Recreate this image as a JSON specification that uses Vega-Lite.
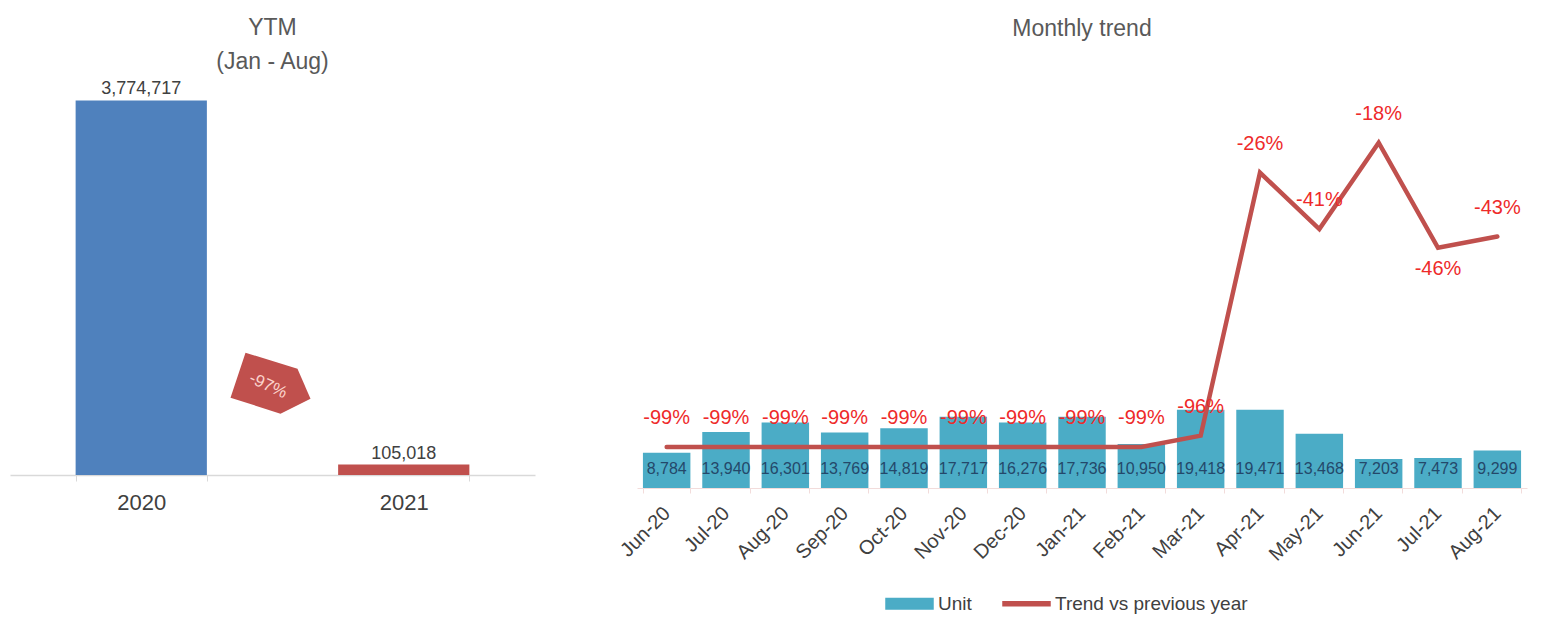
{
  "$schema": "https://vega.github.io/schema/vega-lite/v6.json",
  "background": "white",
  "padding": {"left": 10, "top": 17, "right": 10, "bottom": 5},
  "config": {
    "view": {"stroke": null},
    "font": "Liberation Sans",
    "text": {"font": "Liberation Sans"},
    "title": {"font": "Liberation Sans"},
    "locale": {"number": {"decimal": ".", "thousands": ",", "grouping": [3], "currency": ["$", ""], "minus": "-"}}
  },
  "bounds": "flush",
  "spacing": 102,
  "resolve": {"scale": {"color": "independent"}, "legend": {"color": "independent"}},
  "hconcat": [
    {
      "width": 525,
      "height": 400,
      "title": {"text": ["YTM", "(Jan - Aug)"], "fontSize": 23, "fontWeight": "normal", "color": "#595959", "lineHeight": 34, "offset": 1, "anchor": "middle"},
      "layer": [
        {
          "data": {"values": [{"year": "2020", "units": 3774717}, {"year": "2021", "units": 105018}]},
          "encoding": {
            "x": {"field": "year", "type": "nominal", "scale": {"paddingInner": 0.5, "paddingOuter": 0.25},
              "axis": {"title": null, "labelAngle": 0, "labelFontSize": 22, "labelColor": "#404040", "domainColor": "#D9D9D9", "domainWidth": 1.5, "tickColor": "#D9D9D9", "tickSize": 6, "tickBand": "extent", "labelPadding": 11}},
            "y": {"field": "units", "type": "quantitative", "scale": {"domain": [0, 4030500], "nice": false}, "axis": null}
          },
          "layer": [
            {"mark": {"type": "bar"}, "encoding": {"color": {"field": "year", "type": "nominal", "scale": {"domain": ["2020", "2021"], "range": ["#4F81BD", "#C0504D"]}, "legend": null}}},
            {"mark": {"type": "text", "baseline": "bottom", "dy": -2, "fontSize": 18, "color": "#404040"}, "encoding": {"text": {"field": "units", "type": "quantitative", "format": ","}}}
          ]
        },
        {
          "data": {"values": [{"label": "-97%"}]},
          "encoding": {
            "x": {"datum": "2020", "type": "nominal", "bandPosition": 1.5},
            "y": {"datum": 900000, "type": "quantitative"}
          },
          "layer": [
            {"mark": {"type": "point", "shape": "M-0.643,-0.786L0.595,-0.405L0.905,0.31L0.19,0.667L-1,0.286Z", "size": 7056, "filled": true, "color": "#C0504D", "opacity": 1}},
            {"mark": {"type": "text", "angle": 25, "fontSize": 17, "color": "#FBD3CC", "dx": -4, "dy": 2}, "encoding": {"text": {"field": "label", "type": "nominal"}}}
          ]
        }
      ]
    },
    {
      "width": 890,
      "height": 413,
      "title": {"text": "Monthly trend", "fontSize": 23, "fontWeight": "normal", "color": "#595959", "offset": 34, "anchor": "middle"},
      "data": {"values": [
        {"month": "Jun-20", "units": 8784, "trend": -0.99},
        {"month": "Jul-20", "units": 13940, "trend": -0.99},
        {"month": "Aug-20", "units": 16301, "trend": -0.99},
        {"month": "Sep-20", "units": 13769, "trend": -0.99},
        {"month": "Oct-20", "units": 14819, "trend": -0.99},
        {"month": "Nov-20", "units": 17717, "trend": -0.99},
        {"month": "Dec-20", "units": 16276, "trend": -0.99},
        {"month": "Jan-21", "units": 17736, "trend": -0.99},
        {"month": "Feb-21", "units": 10950, "trend": -0.99},
        {"month": "Mar-21", "units": 19418, "trend": -0.96},
        {"month": "Apr-21", "units": 19471, "trend": -0.26},
        {"month": "May-21", "units": 13468, "trend": -0.41},
        {"month": "Jun-21", "units": 7203, "trend": -0.18},
        {"month": "Jul-21", "units": 7473, "trend": -0.46},
        {"month": "Aug-21", "units": 9299, "trend": -0.43}
      ]},
      "encoding": {
        "x": {"field": "month", "type": "nominal", "sort": null, "scale": {"paddingInner": 0.2, "paddingOuter": 0.1},
          "axis": {"title": null, "labelAngle": -45, "labelAlign": "right", "labelBaseline": "middle", "labelFontSize": 20, "labelColor": "#404040", "domainColor": "#F2DCDB", "tickColor": "#F2DCDB", "tickBand": "extent", "tickSize": 5, "labelPadding": 17}}
      },
      "layer": [
        {
          "encoding": {"y": {"field": "units", "type": "quantitative", "scale": {"domain": [0, 102630], "nice": false}, "axis": null}},
          "layer": [
            {"mark": {"type": "bar"}, "encoding": {"color": {"datum": "Unit", "type": "nominal", "scale": {"domain": ["Unit", "Trend vs previous year"], "range": ["#4BACC6", "#C0504D"]},
              "legend": {"title": null, "orient": "none", "legendX": 248, "legendY": 504, "direction": "horizontal", "labelFontSize": 19, "labelLimit": 0, "labelColor": "#404040", "symbolSize": 2209, "columnPadding": 28, "labelOffset": 4,
                "symbolType": "M-1,-0.22H1V0.22H-1Z",
                "encode": {"symbols": {"update": {
                  "shape": {"signal": "datum.value === 'Unit' ? 'M-1,-0.22H1V0.22H-1Z' : 'M-1,-0.09H1V0.09H-1Z'"},
                  "fill": {"signal": "datum.value === 'Unit' ? '#4BACC6' : '#C0504D'"},
                  "stroke": {"value": "transparent"},
                  "opacity": {"value": 1}
                }}}}}}},
            {"mark": {"type": "text", "fontSize": 16, "color": "#24486A", "baseline": "middle", "dy": -19}, "encoding": {"y": {"datum": 0, "type": "quantitative"}, "text": {"field": "units", "type": "quantitative", "format": ","}}}
          ]
        },
        {
          "encoding": {"y": {"field": "trend", "type": "quantitative", "scale": {"domain": [-1.0993, 0], "nice": false, "zero": false}, "axis": null}},
          "layer": [
            {"mark": {"type": "line", "strokeWidth": 4.5, "strokeCap": "round"}, "encoding": {"color": {"datum": "Trend vs previous year", "type": "nominal"}}},
            {"transform": [{"filter": "datum.month !== 'Jul-21'"}], "mark": {"type": "text", "fontSize": 20, "color": "#EE2A2A", "baseline": "middle", "dy": -29}, "encoding": {"text": {"field": "trend", "type": "quantitative", "format": ".0%"}}},
            {"transform": [{"filter": "datum.month === 'Jul-21'"}], "mark": {"type": "text", "fontSize": 20, "color": "#EE2A2A", "baseline": "middle", "dy": 21}, "encoding": {"text": {"field": "trend", "type": "quantitative", "format": ".0%"}}}
          ]
        }
      ],
      "resolve": {"scale": {"y": "independent"}}
    }
  ]
}
